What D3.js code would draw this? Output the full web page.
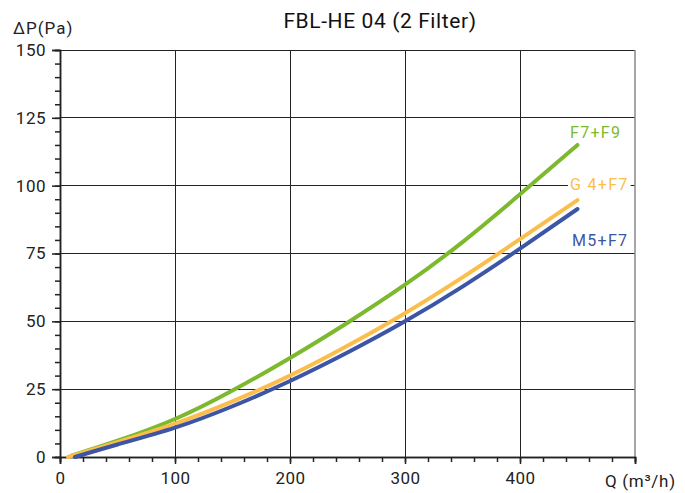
<!DOCTYPE html>
<html>
<head>
<meta charset="utf-8">
<script src="https://cdn.jsdelivr.net/npm/d3@7"></script>
<style>
  html, body { margin: 0; padding: 0; background: #fff; }
  svg { display: block; font-family: Roboto, "DejaVu Sans", sans-serif; }
</style>
</head>
<body>
<svg id="chart" width="685" height="493"></svg>
<script>
// Air flow Q (m³/h) sample points for each filter combination
const qF7F9 = [10, 50, 100, 150, 200, 250, 300, 350, 400, 450];
const dpF7F9 = [0.5, 6, 14, 24.5, 36.5, 49.5, 63.5, 79.2, 96.8, 115];

const qG4F7 = [7, 50, 100, 150, 200, 250, 300, 350, 400, 450];
const dpG4F7 = [0, 5.5, 12.3, 20.5, 30, 41, 53, 66.2, 80.3, 94.7];

const qM5F7 = [13, 50, 100, 150, 200, 250, 300, 350, 400, 450];
const dpM5F7 = [0, 4.6, 10.8, 18.7, 28, 38.5, 50, 62.8, 76.8, 91.4];

const seriesNames = ["F7+F9", "G 4+F7", "M5+F7"];
const seriesColors = ["#7cb92e", "#fbbd4c", "#3c55a5"];

const xMajorTicks = [0, 100, 200, 300, 400];
const yMajorTicks = [0, 25, 50, 75, 100, 125, 150];

const series = [
  { name: seriesNames[0], color: seriesColors[0], pts: qF7F9.map((q, i) => [q, dpF7F9[i]]) },
  { name: seriesNames[1], color: seriesColors[1], pts: qG4F7.map((q, i) => [q, dpG4F7[i]]) },
  { name: seriesNames[2], color: seriesColors[2], pts: qM5F7.map((q, i) => [q, dpM5F7[i]]) }
];

const svg = d3.select("#chart");
const plotL = 60, plotR = 635, plotT = 50, plotB = 457;

const x = d3.scaleLinear().domain([0, 500]).range([plotL, plotR]);
const y = d3.scaleLinear().domain([0, 150]).range([plotB, plotT]);

// Grid
const grid = svg.append("g").attr("stroke", "#222").attr("stroke-width", 1).attr("shape-rendering", "crispEdges");
grid.selectAll("line.v").data([100, 200, 300, 400]).join("line").attr("class", "v")
  .attr("x1", d => x(d)).attr("x2", d => x(d)).attr("y1", plotT).attr("y2", plotB);
grid.selectAll("line.h").data([25, 50, 75, 100, 125, 150]).join("line").attr("class", "h")
  .attr("x1", plotL).attr("x2", plotR).attr("y1", d => y(d)).attr("y2", d => y(d));
// right border
svg.append("line").attr("x1", plotR).attr("x2", plotR).attr("y1", plotT).attr("y2", plotB)
  .attr("stroke", "#888").attr("stroke-width", 1.5);

// Axes with minor ticks
const yMinor = d3.axisLeft(y).tickValues(d3.range(0, 151, 5)).tickSize(5).tickFormat("");
const yMajor = d3.axisLeft(y).tickValues(yMajorTicks).tickSize(8).tickPadding(6).tickFormat(d3.format("d"));
const xMinor = d3.axisBottom(x).tickValues(d3.range(0, 501, 20)).tickSize(5).tickFormat("");
const xMajor = d3.axisBottom(x).tickValues(xMajorTicks.concat([500])).tickSize(7).tickPadding(8)
  .tickFormat(d => d === 500 ? "" : d);

function styleAxis(g) {
  g.selectAll("path").attr("stroke", "#222").attr("stroke-width", 1.5);
  g.selectAll("line").attr("stroke", "#222").attr("stroke-width", 1.5);
  g.selectAll("text").attr("fill", "#222").attr("font-size", 17)
    .attr("font-family", "Roboto, sans-serif").attr("letter-spacing", 0.5);
}
svg.append("g").attr("transform", `translate(${plotL},0)`).call(yMinor).call(styleAxis);
svg.append("g").attr("transform", `translate(${plotL},0)`).call(yMajor).call(styleAxis);
svg.append("g").attr("transform", `translate(0,${plotB})`).call(xMinor).call(styleAxis);
svg.append("g").attr("transform", `translate(0,${plotB})`).call(xMajor).call(styleAxis);

// Curves
const line = d3.line().x(d => x(d[0])).y(d => y(d[1])).curve(d3.curveNatural);
svg.append("g").selectAll("path").data(series).join("path")
  .attr("d", d => line(d.pts))
  .attr("fill", "none")
  .attr("stroke", d => d.color)
  .attr("stroke-width", 4)
  .attr("stroke-linecap", "round");

// Series labels
const labelPos = [
  { x: 570, y: 138 },
  { x: 570, y: 190 },
  { x: 572, y: 246 }
];
series.forEach((s, i) => {
  const t = svg.append("text")
    .attr("x", labelPos[i].x).attr("y", labelPos[i].y)
    .attr("fill", s.color).attr("font-size", 16).attr("letter-spacing", 1.3)
    .text(s.name);
  if (i === 1) {
    const bb = t.node().getBBox();
    svg.append("rect")
      .attr("x", bb.x - 2).attr("y", bb.y + 2).attr("width", bb.width + 4).attr("height", bb.height - 4)
      .attr("fill", "#fff");
    t.raise();
  }
});

// Title and axis labels
svg.append("text").attr("x", 380).attr("y", 28).attr("text-anchor", "middle")
  .attr("font-size", 21).attr("letter-spacing", 0.6).attr("fill", "#111").text("FBL-HE 04 (2 Filter)");
svg.append("text").attr("x", 13).attr("y", 34)
  .attr("font-size", 17).attr("letter-spacing", 1).attr("fill", "#222").text("ΔP(Pa)");
svg.append("text").attr("x", 605).attr("y", 487)
  .attr("font-size", 17).attr("fill", "#222").attr("letter-spacing", 0.7).text("Q (m³/h)");
</script>
</body>
</html>
